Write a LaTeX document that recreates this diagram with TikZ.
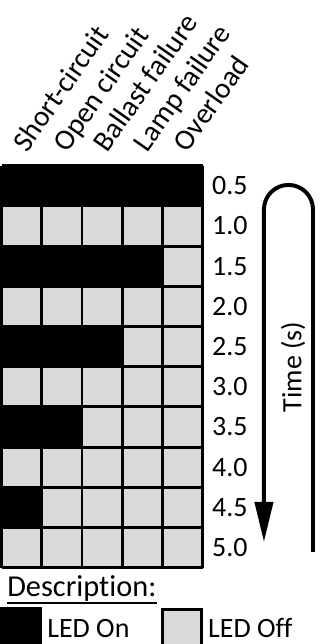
\documentclass[tikz,border=0pt]{standalone}
\usepackage{fontspec}
\setmainfont{Carlito}[Ligatures={NoCommon}]
\usetikzlibrary{arrows.meta}
\definecolor{ledgray}{HTML}{D9D9D9}
\tikzset{
  txt/.style={inner sep=0pt,font=\fontsize{19.8}{24}\selectfont},
  bigtxt/.style={inner sep=0pt,font=\fontsize{21.5}{26}\selectfont},
  head/.style={inner sep=0pt,font=\fontsize{20.6}{25}\selectfont,anchor=base west,rotate=55},
  tlabel/.style={txt,anchor=west},
  cellline/.style={line width=2.1pt},
}
\begin{document}
\begin{tikzpicture}[x=1cm,y=1cm]
\useasboundingbox (-0.04,0.10) rectangle (7.995,16.12);

% LED grid
\fill[ledgray] (0,2) rectangle (5,12);
\fill (0,11) rectangle (5,12);
\fill (0,9) rectangle (4,10);
\fill (0,7) rectangle (3,8);
\fill (0,5) rectangle (2,6);
\fill (0,3) rectangle (1,4);
\draw[cellline] (0,2) grid (5,12);

% column heads
\node[head] (sc) at (0.63,12.3) {Short-circuit};
\node[head] (oc) at (1.63,12.3) {Open circuit};
\node[head] (bf) at (2.63,12.3) {Ballast failure};
\node[head] (lf) at (3.63,12.3) {Lamp failure};
\node[head] (ol) at (4.63,12.3) {Overload};

% times
\node[tlabel] (t05) at (5.23,11.5) {0.5};
\node[tlabel] (t10) at (5.23,10.5) {1.0};
\node[tlabel] (t15) at (5.23,9.5) {1.5};
\node[tlabel] (t20) at (5.23,8.5) {2.0};
\node[tlabel] (t25) at (5.23,7.5) {2.5};
\node[tlabel] (t30) at (5.23,6.5) {3.0};
\node[tlabel] (t35) at (5.23,5.5) {3.5};
\node[tlabel] (t40) at (5.23,4.5) {4.0};
\node[tlabel] (t45) at (5.23,3.5) {4.5};
\node[tlabel] (t50) at (5.23,2.5) {5.0};

% time loop
\coordinate (loopstart) at (7.746,2.389);
\coordinate (looptip) at (6.526,2.637);
\draw[line width=2.8pt,-{Triangle[length=1cm,width=0.45cm]}]
  (loopstart) -- ++(0,8.521) arc[start angle=0,end angle=180,radius=0.61] -- (looptip);
\node[txt,rotate=90] (time) at (7.249,6.99) {Time (s)};

% description
\node[bigtxt,anchor=base west] (desc) at (0.134,1.27) {Description:};
\draw[line width=1.4pt] ([yshift=-0.15cm]desc.base west) -- ([yshift=-0.15cm]desc.base east);
\begin{scope}
\clip (-0.04,0.10) rectangle (7.995,16.12);
\fill (-0.04,0) rectangle (1.005,1.02);
\draw[cellline,fill=ledgray] (4.0,0) rectangle (4.97,0.96);
\end{scope}
\node[txt,anchor=base west] (on) at (1.13,0.274) {LED On};
\node[txt,anchor=base west] (off) at (5.13,0.274) {LED Off};
\end{tikzpicture}
\end{document}
